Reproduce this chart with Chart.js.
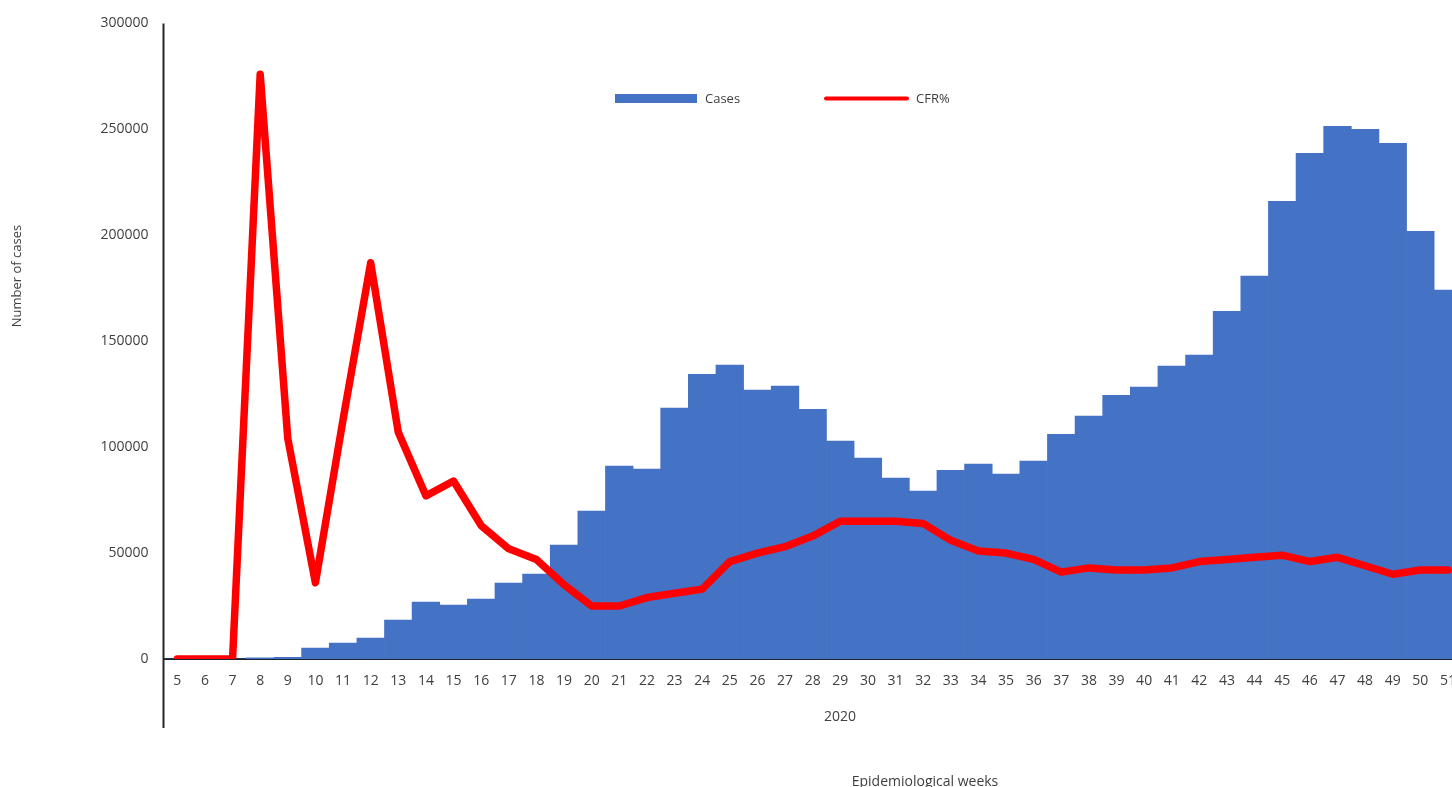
<!DOCTYPE html>
<html>
<head>
<meta charset="utf-8">
<script src="https://cdn.jsdelivr.net/npm/chart.js@4/dist/chart.umd.min.js"></script>
<style>
  html, body { margin: 0; padding: 0; background: #fff; overflow: hidden; }
  #wrap { width: 1452px; height: 787px; overflow: hidden; position: relative; }
  canvas { display: block; }
</style>
</head>
<body>
<div id="wrap"><canvas id="myChart" width="1470" height="787"></canvas></div>
<script>
const weeks = ['5','6','7','8','9','10','11','12','13','14','15','16','17','18','19','20','21','22','23','24','25','26','27','28','29','30','31','32','33','34','35','36','37','38','39','40','41','42','43','44','45','46','47','48','49','50','51']

const cases = [0, 0, 0, 500, 800, 5200, 7500, 9900, 18400, 26900, 25500, 28300, 35800, 40100, 53800, 69800,
  91000, 89600, 118400, 134400, 138700, 126900, 128800, 117900, 102800, 94800, 85400, 79200, 89100, 92000,
  87300, 93400, 106100, 114600, 124500, 128300, 138200, 143400, 164100, 180700, 216000, 238700, 251400,
  250000, 243400, 201900, 174100]

const cfr = [0, 0, 0, 27.6, 10.4, 3.6, 11.3, 18.7, 10.7, 7.7, 8.4, 6.3, 5.2, 4.7, 3.5, 2.5, 2.5, 2.9, 3.1, 3.3,
  4.6, 5.0, 5.3, 5.8, 6.5, 6.5, 6.5, 6.4, 5.6, 5.1, 5.0, 4.7, 4.1, 4.3, 4.2, 4.2, 4.3, 4.6, 4.7, 4.8, 4.9,
  4.6, 4.8, 4.4, 4.0, 4.2, 4.2]

const yearLabel = '2020'
const xTitle = 'Epidemiological weeks'
const yTitle = 'Number of cases'

const blue = '#4472c4'
const red = '#ff0000'
const textColor = '#404040'
const fontFamily = '"Open Sans", sans-serif'

// extra bits: legend inside the plot, axis titles, year group line
const extras = {
  id: 'extras',
  afterDraw(chart) {
    const c = chart.ctx
    const area = chart.chartArea
    c.save()
    // y axis line runs down past the week labels
    c.strokeStyle = '#262626'
    c.lineWidth = 2
    c.beginPath()
    c.moveTo(163.5, area.top)
    c.lineTo(163.5, 728)
    c.stroke()

    c.fillStyle = textColor
    c.font = '14px ' + fontFamily
    c.textAlign = 'center'
    c.textBaseline = 'middle'
    c.fillText(yearLabel, 840, 717)
    c.fillText(xTitle, 925, 782)

    c.save()
    c.translate(17, 276)
    c.rotate(-Math.PI / 2)
    c.font = '13px ' + fontFamily
    c.fillText(yTitle, 0, 0)
    c.restore()

    // legend
    const ds = chart.data.datasets
    c.textAlign = 'left'
    c.font = '13px ' + fontFamily
    c.fillStyle = ds[1].backgroundColor
    c.fillRect(615, 94, 82, 9)
    c.fillStyle = textColor
    c.fillText(ds[1].label, 705, 99)

    c.strokeStyle = ds[0].borderColor
    c.lineWidth = 4
    c.lineCap = 'round'
    c.beginPath()
    c.moveTo(826, 98.5)
    c.lineTo(907, 98.5)
    c.stroke()
    c.fillText(ds[0].label, 916, 99)
    c.restore()
  }
}

var ctx = document.getElementById('myChart')
var lineChart = new Chart(ctx, {
  type: 'bar',
  data: {
    labels: weeks,
    datasets: [{
      type: 'line',
      label: 'CFR%',
      data: cfr,
      yAxisID: 'y1',
      borderColor: red,
      backgroundColor: red,
      borderWidth: 7.5,
      tension: 0,
      pointRadius: 0,
      borderCapStyle: 'round',
      borderJoinStyle: 'round',
      order: 0
    }, {
      label: 'Cases',
      data: cases,
      yAxisID: 'y',
      backgroundColor: blue,
      borderWidth: 0,
      barPercentage: 1,
      categoryPercentage: 1,
      order: 1
    }]
  },
  options: {
    responsive: false,
    animation: false,
    layout: { padding: { top: 23, left: 0, right: 1, bottom: 0 } },
    plugins: {
      legend: { display: false },
      tooltip: { enabled: false }
    },
    scales: {
      x: {
        grid: { display: false, drawTicks: false },
        border: { display: true, color: '#1b2230', width: 2 },
        ticks: {
          color: textColor,
          font: { family: fontFamily, size: 14 },
          padding: 14,
          maxRotation: 0,
          autoSkip: false
        },
        afterFit(scale) { scale.height = 128 }
      },
      y: {
        min: 0,
        max: 300000,
        grid: { display: false, drawTicks: false },
        border: { display: false },
        ticks: {
          stepSize: 50000,
          color: textColor,
          font: { family: fontFamily, size: 14 },
          padding: 15,
          callback: (v) => String(v)
        },
        afterFit(scale) { scale.width = 163.5 }
      },
      y1: {
        display: false,
        min: 0,
        max: 30
      }
    }
  },
  plugins: [extras]
})
</script>
</body>
</html>
